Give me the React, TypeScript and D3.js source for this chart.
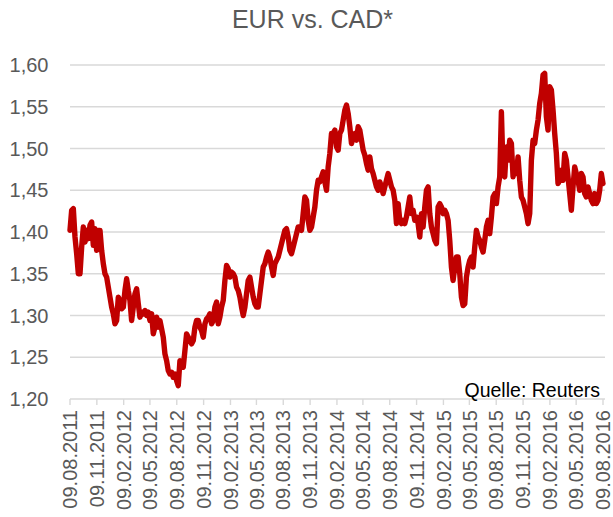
import React from 'react';
import * as d3 from 'd3';

const width = 613;
const height = 517;

const margin = { left: 70, right: 9, top: 65, bottom: 118 };
const plotRight = width - margin.right;
const plotBottom = height - margin.bottom;

const lineColor = '#C00000';
const gridColor = '#d9d9d9';
const textColor = '#595959';

const firstDay = '09.08.2011';
const lastDay = '09.08.2016';

// EUR/CAD, evenly spaced between first and last day
const rates2011_2013 = [
  1.402, 1.426, 1.428, 1.394, 1.374, 1.35, 1.35, 1.382, 1.406, 1.388,
  1.402, 1.392, 1.408, 1.412, 1.384, 1.404, 1.378, 1.402, 1.402, 1.378,
  1.362, 1.35, 1.346, 1.334, 1.322, 1.31, 1.302, 1.29, 1.294, 1.322,
  1.318, 1.308, 1.31, 1.33, 1.344, 1.33, 1.318, 1.294, 1.31, 1.326,
  1.332, 1.314, 1.298, 1.304, 1.302, 1.306, 1.3, 1.304, 1.294, 1.302,
  1.278, 1.286, 1.298, 1.286, 1.294, 1.284, 1.274, 1.254, 1.246, 1.234,
  1.23, 1.232, 1.226, 1.23, 1.222, 1.216, 1.246, 1.242, 1.238, 1.258,
  1.278, 1.274, 1.27, 1.266, 1.27, 1.286, 1.294, 1.294, 1.286, 1.282,
];
const rates2013_2014 = [
  1.274, 1.29, 1.296, 1.298, 1.302, 1.29, 1.294, 1.31, 1.316, 1.29,
  1.298, 1.31, 1.318, 1.342, 1.36, 1.356, 1.346, 1.352, 1.35, 1.346,
  1.334, 1.33, 1.322, 1.31, 1.3, 1.31, 1.326, 1.342, 1.346, 1.334,
  1.322, 1.314, 1.31, 1.31, 1.326, 1.342, 1.358, 1.362, 1.37, 1.376,
  1.37, 1.358, 1.348, 1.362, 1.366, 1.37, 1.378, 1.386, 1.394, 1.402,
  1.404, 1.394, 1.378, 1.374, 1.382, 1.39, 1.398, 1.406, 1.406, 1.402,
  1.422, 1.442, 1.438, 1.414, 1.402, 1.406, 1.418, 1.43, 1.45, 1.462,
  1.46, 1.466, 1.472, 1.46, 1.45, 1.478, 1.494, 1.518,
];
const rates2014_2015 = [
  1.518, 1.522, 1.502, 1.498, 1.518, 1.522, 1.534, 1.546, 1.552, 1.542,
  1.526, 1.506, 1.514, 1.518, 1.51, 1.526, 1.522, 1.51, 1.498, 1.492,
  1.482, 1.474, 1.49, 1.476, 1.47, 1.462, 1.454, 1.45, 1.46, 1.454,
  1.446, 1.454, 1.462, 1.47, 1.462, 1.454, 1.45, 1.438, 1.41, 1.434,
  1.414, 1.41, 1.414, 1.41, 1.418, 1.43, 1.442, 1.422, 1.426, 1.414,
  1.418, 1.41, 1.394, 1.422, 1.406, 1.43, 1.45, 1.454, 1.422, 1.406,
  1.398, 1.39, 1.386, 1.43, 1.434, 1.43, 1.422, 1.426, 1.422, 1.414,
  1.39, 1.358, 1.342, 1.358, 1.37, 1.37, 1.35, 1.322,
];
const rates2015_2016 = [
  1.312, 1.314, 1.346, 1.358, 1.366, 1.37, 1.358, 1.382, 1.402, 1.394,
  1.39, 1.382, 1.376, 1.39, 1.406, 1.414, 1.398, 1.418, 1.442, 1.446,
  1.434, 1.454, 1.466, 1.544, 1.474, 1.466, 1.502, 1.486, 1.51, 1.506,
  1.466, 1.478, 1.47, 1.49, 1.462, 1.442, 1.438, 1.43, 1.422, 1.41,
  1.422, 1.486, 1.51, 1.506, 1.522, 1.534, 1.554, 1.566, 1.588, 1.59,
  1.538, 1.522, 1.574, 1.57, 1.546, 1.518, 1.494, 1.458, 1.462, 1.474,
  1.462, 1.494, 1.486, 1.466, 1.446, 1.426, 1.454, 1.478, 1.47, 1.462,
  1.45, 1.47, 1.466, 1.446, 1.442, 1.454, 1.446, 1.438, 1.434, 1.446,
  1.434, 1.438, 1.45, 1.47, 1.458,
];

const rates = [...rates2011_2013, ...rates2013_2014, ...rates2014_2015, ...rates2015_2016];

const xTickLabels = [
  '09.08.2011', '09.11.2011', '09.02.2012', '09.05.2012', '09.08.2012',
  '09.11.2012', '09.02.2013', '09.05.2013', '09.08.2013', '09.11.2013',
  '09.02.2014', '09.05.2014', '09.08.2014', '09.11.2014', '09.02.2015',
  '09.05.2015', '09.08.2015', '09.11.2015', '09.02.2016', '09.05.2016',
  '09.08.2016',
];

const yTicks = [1.2, 1.25, 1.3, 1.35, 1.4, 1.45, 1.5, 1.55, 1.6];

const parseDay = d3.timeParse('%d.%m.%Y');
const start = parseDay(firstDay) as Date;
const end = parseDay(lastDay) as Date;

const sampleTime = d3.scaleLinear()
  .domain([0, rates.length - 1])
  .range([start.getTime(), end.getTime()]);

const points = rates.map((v, i) => ({ date: new Date(sampleTime(i)), value: v }));

const x = d3.scaleTime().domain([start, end]).range([margin.left, plotRight - 1]);
const y = d3.scaleLinear().domain([1.2, 1.6]).range([plotBottom, margin.top]);

const de = d3.formatLocale({ decimal: ',', thousands: '.', grouping: [3], currency: ['', ' €'] });
const fmt = de.format('.2f');

const line = d3.line<{ date: Date; value: number }>()
  .x(d => x(d.date))
  .y(d => y(d.value));

const App = () => {
  return (
    <svg
      width={width}
      height={height}
      style={{ position: 'absolute', left: 0, top: 0, background: '#fff' }}
      fontFamily="'Liberation Sans', Arial, sans-serif"
    >
      <text x={312.5} y={28} textAnchor="middle" fontSize={25} fill={textColor}>
        EUR vs. CAD*
      </text>

      {yTicks.map(t => (
        <g key={t}>
          <line x1={margin.left} x2={plotRight + 1} y1={y(t)} y2={y(t)} stroke={gridColor} strokeWidth={1.4} />
          <text x={48.5} y={y(t)} dy="0.36em" textAnchor="end" fontSize={20} fill={textColor}>
            {fmt(t)}
          </text>
        </g>
      ))}

      {xTickLabels.map(l => {
        const tx = x(parseDay(l) as Date);
        return (
          <g key={l}>
            <line x1={tx} x2={tx} y1={plotBottom} y2={plotBottom + 6} stroke={gridColor} strokeWidth={1.4} />
            <text
              transform={`translate(${tx},${plotBottom + 11}) rotate(-90)`}
              dy="0.36em"
              textAnchor="end"
              fontSize={20}
              fill={textColor}
            >
              {l}
            </text>
          </g>
        );
      })}

      <path
        d={line(points) || ''}
        fill="none"
        stroke={lineColor}
        strokeWidth={5.4}
        strokeLinejoin="round"
        strokeLinecap="round"
      />

      <text x={600} y={396.5} textAnchor="end" fontSize={19.5} fill="#000">
        Quelle: Reuters
      </text>
    </svg>
  );
};

export default App;
